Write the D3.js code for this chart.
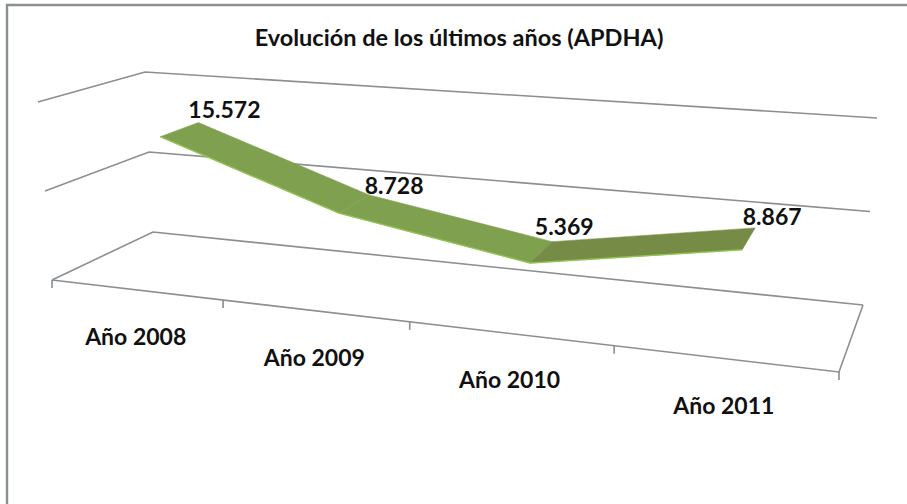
<!DOCTYPE html>
<html>
<head>
<meta charset="utf-8">
<script src="https://cdn.jsdelivr.net/npm/d3@7"></script>
<style>
  html, body { margin: 0; padding: 0; background: #fff; }
  text { font-family: Lato, "Open Sans", sans-serif; font-weight: 700; fill: #111; }
</style>
</head>
<body>
<div id="chart"></div>
<script>
// ------- Data -------
const categories = ["Año 2008", "Año 2009", "Año 2010", "Año 2011"];
const values = [15572, 8728, 5369, 8867];
const valueLabels = ["15.572", "8.728", "5.369", "8.867"];
const gridValues = [0, 10000, 20000];

// ------- Setup -------
const width = 907;
const height = 504;

const svg = d3.select("#chart")
  .append("svg")
  .attr("width", width)
  .attr("height", height)
  .style("display", "block");

// ------- Scales (box coordinates, all 0..1) -------
const xBand = d3.scaleBand().domain(categories).range([0, 1]);
const yValue = d3.scaleLinear().domain([0, 20000]).range([0, 1]);

// corners of the 3D box as they land on the page
const floorFront = [[52, 280], [839, 372]];
const floorBack = [[153, 232], [863, 305]];
const liftFront = [[-14, -178], [22, -208]];
const liftBack = [[-8, -160], [14, -187]];

const mix = (a, b, t) => a + (b - a) * t;
const mixPt = (a, b, t) => [mix(a[0], b[0], t), mix(a[1], b[1], t)];

// foreshortening along the category axis
const warp = u => u / (u + 1.2 * (1 - u));

// u: along categories, v: height, d: 0 front .. 1 back
function project(u, v, d) {
  const t = warp(u);
  const floor = mixPt(mixPt(floorFront[0], floorFront[1], t), mixPt(floorBack[0], floorBack[1], t), d);
  const lift = mixPt(mixPt(liftFront[0], liftFront[1], t), mixPt(liftBack[0], liftBack[1], t), d);
  return [floor[0] + lift[0] * v, floor[1] + lift[1] * v];
}

const line = d3.line();
const centre = c => xBand(c) + xBand.bandwidth() / 2;

// ------- Frame (only top and left edges are inside the crop) -------
svg.append("path")
  .attr("fill", "none")
  .attr("stroke", "#8c8f90")
  .attr("stroke-width", 2.4)
  .attr("d", line([[7, height], [7, 5], [width, 5]]));

// ------- Title -------
svg.append("text")
  .attr("x", 459)
  .attr("y", 46)
  .attr("text-anchor", "middle")
  .attr("font-size", 23.5)
  .text("Evolución de los últimos años (APDHA)");

// ------- Gridlines on the side wall and back wall -------
const gridColor = "#8a8f93";
svg.append("g")
  .selectAll("path")
  .data(gridValues)
  .enter()
  .append("path")
  .attr("fill", "none")
  .attr("stroke", gridColor)
  .attr("stroke-width", 1.6)
  .attr("d", v => line([project(0, yValue(v), 0), project(0, yValue(v), 1), project(1, yValue(v), 1)]));

// ------- Floor edges and ticks -------
svg.append("path")
  .attr("fill", "none")
  .attr("stroke", gridColor)
  .attr("stroke-width", 1.6)
  .attr("d", line([project(0, 0, 0), project(1, 0, 0), project(1, 0, 1)]));

const tickPos = d3.range(categories.length + 1).map(i => i / categories.length);
svg.append("g")
  .selectAll("line")
  .data(tickPos)
  .enter()
  .append("line")
  .attr("x1", u => project(u, 0, 0)[0])
  .attr("x2", u => project(u, 0, 0)[0])
  .attr("y1", u => project(u, 0, 0)[1])
  .attr("y2", u => project(u, 0, 0)[1] + 8)
  .attr("stroke", gridColor)
  .attr("stroke-width", 1.6);

// ------- Ribbon -------
const ribbonFront = 0.336;
const ribbonBack = 0.733;
const segColors = ["#7fa14f", "#7fa14f", "#768b46"];

const pts = categories.map((c, i) => ({
  front: project(centre(c), yValue(values[i]), ribbonFront),
  back: project(centre(c), yValue(values[i]), ribbonBack)
}));

svg.append("g")
  .selectAll("path")
  .data(d3.pairs(pts))
  .enter()
  .append("path")
  .attr("fill", (d, i) => segColors[i])
  .attr("stroke", (d, i) => segColors[i])
  .attr("stroke-width", 0.5)
  .attr("d", ([a, b]) => line([a.back, b.back, b.front, a.front]) + "Z");

// light edge along the front of the ribbon
svg.append("path")
  .attr("fill", "none")
  .attr("stroke", "#93c451")
  .attr("stroke-width", 1.4)
  .attr("d", line(pts.map(p => p.front)));

// ------- Labels -------
const labelNudge = [[26, -5], [25, -1], [12, -7], [17, -3]];

svg.append("g")
  .selectAll("text")
  .data(valueLabels)
  .enter()
  .append("text")
  .attr("x", (d, i) => pts[i].back[0] + labelNudge[i][0])
  .attr("y", (d, i) => pts[i].back[1] + labelNudge[i][1])
  .attr("text-anchor", "middle")
  .attr("font-size", 23)
  .text(d => d);

svg.append("g")
  .selectAll("text")
  .data(categories)
  .enter()
  .append("text")
  .attr("x", c => project(centre(c), 0, 0)[0])
  .attr("y", c => project(centre(c), 0, 0)[1] + 55)
  .attr("text-anchor", "middle")
  .attr("font-size", 23)
  .text(c => c);
</script>
</body>
</html>
